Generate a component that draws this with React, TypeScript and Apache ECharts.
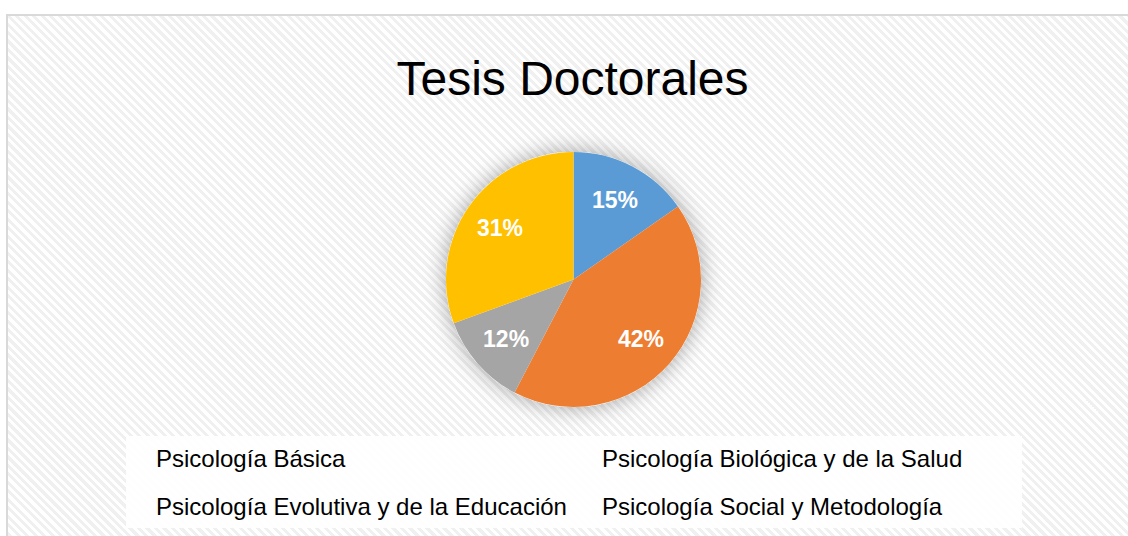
import React, { useEffect, useRef } from 'react';
import * as echarts from 'echarts';

const chartTitle = 'Tesis Doctorales';
const categories = [
  'Psicología Básica',
  'Psicología Biológica y de la Salud',
  'Psicología Evolutiva y de la Educación',
  'Psicología Social y Metodología',
];
const values = [13, 36, 10, 26];
const colors = ['#5B9BD5', '#ED7D31', '#A5A5A5', '#FFC000'];

const FONT = '"Liberation Sans", Arial, sans-serif';

export default function App() {
  const ref = useRef<HTMLDivElement>(null);

  useEffect(() => {
    if (!ref.current) return;
    const chart = echarts.init(ref.current, undefined, { renderer: 'svg' });
    const data = categories.map((name, i) => ({
      name,
      value: values[i],
      itemStyle: { color: colors[i] },
    }));
    const legendBase = {
      orient: 'vertical' as const,
      padding: 0,
      itemWidth: 0,
      itemHeight: 0,
      itemGap: 24.5,
      icon: 'rect',
      itemStyle: { opacity: 0 },
      selectedMode: false,
      textStyle: {
        fontSize: 24,
        fontFamily: FONT,
        color: '#000',
        lineHeight: 24,
      },
    };
    chart.setOption({
      animation: false,
      backgroundColor: 'transparent',
      graphic: [
        {
          type: 'rect',
          z: -10,
          shape: { x: 126, y: 436, width: 896, height: 92 },
          style: { fill: 'rgba(255,255,255,0.88)' },
          silent: true,
        },
        {
          type: 'text',
          x: 572.5,
          y: 78,
          style: {
            text: chartTitle,
            font: `48px ${FONT}`,
            fill: '#000',
            textAlign: 'center',
            textVerticalAlign: 'middle',
          },
        },
      ],
      legend: [
        { ...legendBase, left: 151, top: 446, data: [categories[0], categories[2]] },
        { ...legendBase, left: 597, top: 446, data: [categories[1], categories[3]] },
      ],
      series: [
        {
          type: 'pie',
          z: 1,
          silent: true,
          center: [573.5, 279.5],
          radius: [0, 127.5],
          label: { show: false },
          labelLine: { show: false },
          itemStyle: {
            color: '#ffffff',
            shadowBlur: 22,
            shadowColor: 'rgba(0,0,0,0.35)',
          },
          data: [{ name: '_shadow', value: 1 }],
        },
        {
          type: 'pie',
          z: 2,
          center: [573.5, 279.5],
          radius: [0, 127.5],
          startAngle: 90,
          clockwise: true,
          label: { show: false },
          labelLine: { show: false },
          itemStyle: { borderWidth: 0 },
          data,
        },
        {
          type: 'pie',
          z: 3,
          silent: true,
          center: [573.5, 279.5],
          radius: [46, 127.5],
          startAngle: 90,
          clockwise: true,
          itemStyle: { color: 'transparent', borderWidth: 0 },
          label: {
            show: true,
            position: 'inside',
            formatter: (p: any) => Math.round(p.percent) + '%',
            color: '#ffffff',
            fontSize: 23,
            fontWeight: 'bold',
            fontFamily: FONT,
          },
          labelLine: { show: false },
          data: categories.map((name, i) => ({ name, value: values[i] })),
        },
      ],
    });
    return () => chart.dispose();
  }, []);

  return (
    <div
      style={{
        position: 'fixed',
        left: 0,
        top: 0,
        width: 1128,
        height: 536,
        overflow: 'hidden',
        background: '#fff',
      }}
    >
      <div
        style={{
          position: 'absolute',
          left: 6,
          top: 14,
          width: 1200,
          height: 600,
          border: '2px solid #d9d9d9',
          background:
            'repeating-linear-gradient(45deg, #ffffff 0px, #ffffff 3px, #f0f0f0 3px, #f0f0f0 6px)',
        }}
      />
      <div
        ref={ref}
        style={{ position: 'absolute', left: 0, top: 0, width: 1128, height: 536 }}
      />
    </div>
  );
}
